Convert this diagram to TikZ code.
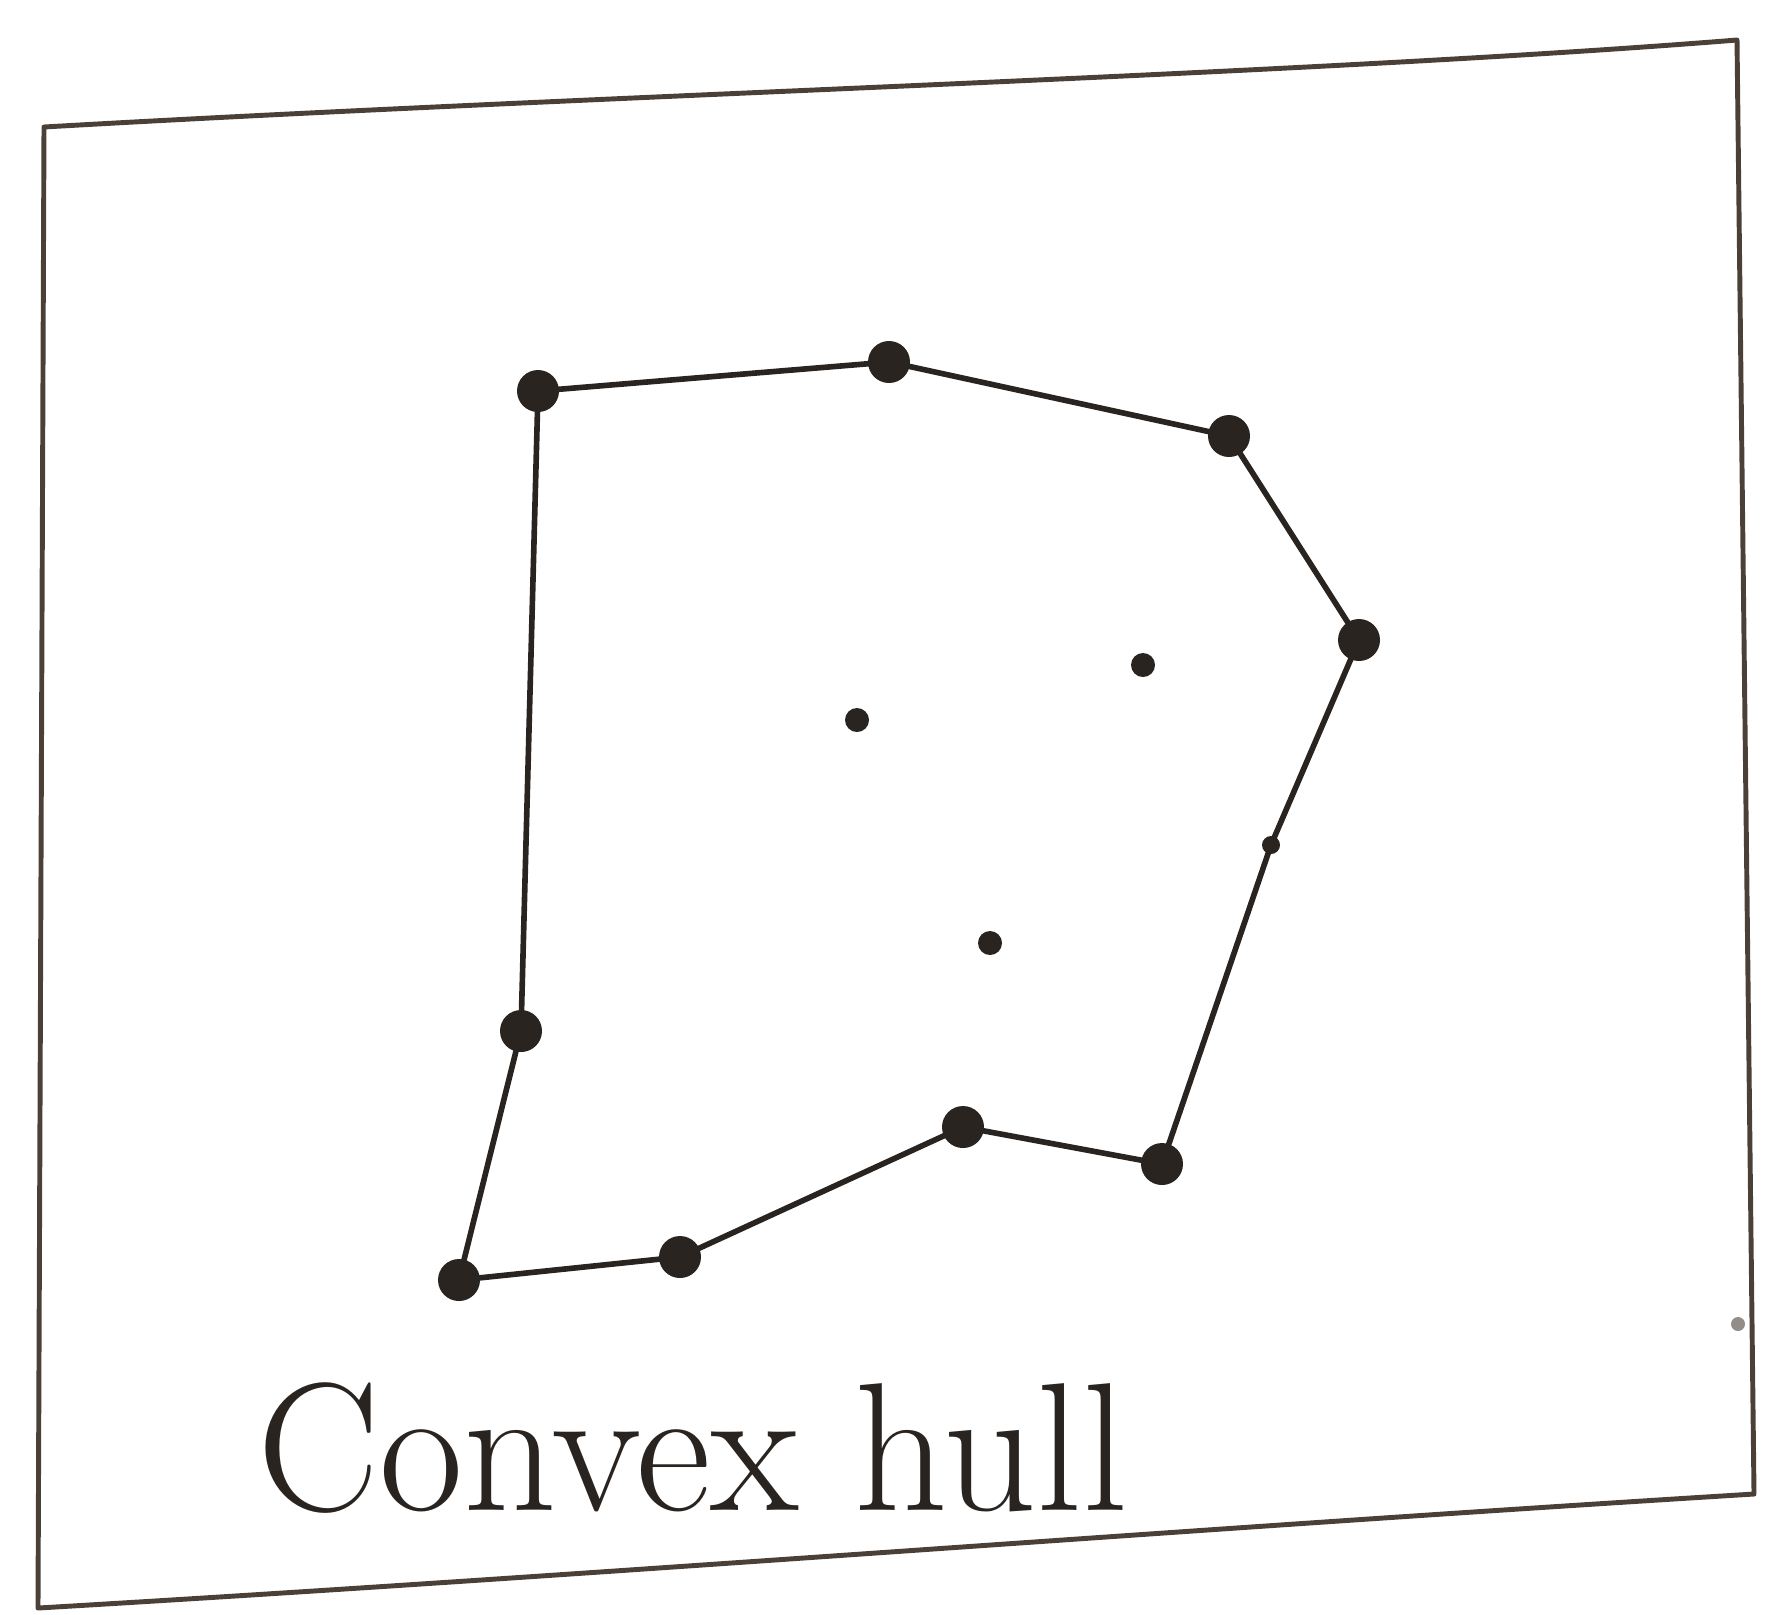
\documentclass[tikz,border=0pt]{standalone}
\usepackage{tikz}
\usetikzlibrary{calc}
\definecolor{ink}{HTML}{2A2420}
\definecolor{frameink}{HTML}{4A4038}
\tikzset{
    hullpt/.style={fill=ink},
    hulledge/.style={draw=ink, line width=1.6pt, line join=round},
    frameedge/.style={draw=frameink, line width=1.4pt, line join=round}
}
\begin{document}
\begin{tikzpicture}[x=0.01cm, y=-0.01cm]
        \useasboundingbox (0,0) rectangle (1776,1614);
        % Paper frame
        \coordinate (F1) at (44,127);
        \coordinate (F2) at (1737,40);
        \coordinate (F3) at (1754,1494);
        \coordinate (F4) at (38,1608);
        \path[frameedge] (F1) .. controls (600,95) and (1300,75) .. (F2)
            -- (F3) .. controls (1200,1528) and (600,1575) .. (F4) -- cycle;

        % Hull vertices
        \coordinate (P1) at (538,391);
        \coordinate (P2) at (889,362);
        \coordinate (P3) at (1229,436);
        \coordinate (P4) at (1359,640);
        \coordinate (P5) at (1271,845);
        \coordinate (P6) at (1162,1164);
        \coordinate (P7) at (963,1127);
        \coordinate (P8) at (680,1257);
        \coordinate (P9) at (459,1280);
        \coordinate (P10) at (521,1031);
        % Inner points
        \coordinate (Q1) at (1143,665);
        \coordinate (Q2) at (857,720);
        \coordinate (Q3) at (990,943);
        \coordinate (Q4) at (1738,1324);

        \path[hulledge] (P1) -- (P2) -- (P3) -- (P4) -- (P5) -- (P6)
            -- (P7) -- (P8) -- (P9) -- (P10) -- cycle;

        \foreach \p in {P1,P2,P3,P4,P6,P7,P8,P9,P10} {
            \fill[hullpt] (\p) circle (21);
        }
        \fill[hullpt] (P5) circle (9);
        \foreach \q in {Q1,Q2,Q3} {
            \fill[hullpt] (\q) circle (12);
        }
        \fill[frameink!60] (Q4) circle (7);

        \node[ink, font=\fontsize{52}{60}\selectfont, anchor=base west] (label) at (245,1510) {Convex hull};
    \end{tikzpicture}
\end{document}
